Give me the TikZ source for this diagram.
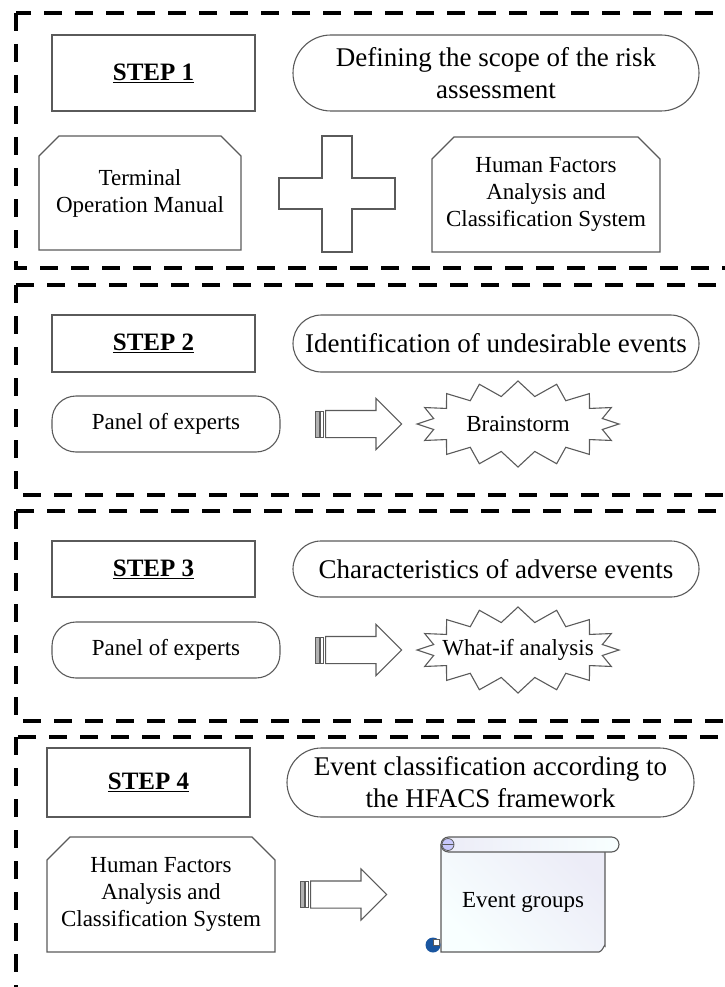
\documentclass[tikz,border=0pt]{standalone}
\usepackage{fontspec}
\setmainfont{Liberation Serif}
\usetikzlibrary{shapes.misc,shapes.symbols,shapes.arrows}

\definecolor{edge}{HTML}{5A5A5A}
\definecolor{rollA}{HTML}{ECECF7}
\definecolor{rollB}{HTML}{F8FFFF}
\definecolor{curl}{HTML}{1A56A0}

\begin{document}
\begin{tikzpicture}[x=1pt,y=-1pt,
  frame/.style={line width=3.2pt, dash pattern=on 18pt off 13pt},
  outline/.style={draw=edge, line width=1.1pt},
  box/.style={outline, inner sep=0pt, align=center},
  stepbox/.style={box, rectangle, minimum width=203pt, font=\fontsize{25}{30}\selectfont\bfseries},
  pill/.style={box, rounded rectangle, font=\fontsize{27}{32}\selectfont},
  panel/.style={box, rectangle, rounded corners=24pt, minimum width=228pt, minimum height=56pt, font=\fontsize{23}{28}\selectfont},
  doc/.style={box, chamfered rectangle, chamfered rectangle corners={north west,north east}, font=\fontsize{23}{27}\selectfont},
  burst/.style={box, starburst, starburst points=16, random starburst=0, starburst point height=15pt, minimum width=202pt, minimum height=86pt},
  label/.style={font=\fontsize{23}{28}\selectfont, inner sep=0pt},
  blockarrow/.style={outline, single arrow, single arrow head extend=12pt, single arrow tip angle=90, inner sep=13pt, minimum height=76pt},
  stripedarrow/.pic={
    \fill[gray!60] (0,-13) rectangle (4,13);
    \draw[draw=edge, line width=0.7pt] (0,-13) rectangle (4,13);
    \draw[draw=edge, line width=0.7pt] (5.5,-13) rectangle (8.5,13);
    \node[blockarrow, anchor=tail] (-body) at (10,0) {};
  }
]
\useasboundingbox (0,0) rectangle (724,987);

% dashed frames of the four steps
\draw[frame] (16,13) rectangle (745,268);
\draw[frame] (16,285) rectangle (745,495);
\draw[frame] (16,511) rectangle (745,721);
\draw[frame] (16,737) rectangle (745,1010);

% step 1
\node[stepbox, minimum height=76pt] (s1) at (153.5,73) {\underline{STEP 1}};
\node[pill, minimum width=406pt, minimum height=76pt] (d1) at (496,73) {Defining the scope of the risk\\assessment};
\node[doc, minimum width=202pt, minimum height=114pt, chamfered rectangle xsep=10pt, chamfered rectangle ysep=10pt] (tom) at (140,193) {Terminal\\Operation Manual};
\draw[outline] (279,178) -- (322,178) -- (322,136) -- (352,136) -- (352,178) -- (395,178)
  -- (395,209) -- (352,209) -- (352,252) -- (322,252) -- (322,209) -- (279,209) -- cycle;
\node[doc, minimum width=228pt, minimum height=115pt, chamfered rectangle xsep=12pt, chamfered rectangle ysep=10pt] (hf1) at (546,194.5) {Human Factors\\Analysis and\\Classification System};

% step 2
\node[stepbox, minimum height=57pt] (s2) at (153.5,343.5) {\underline{STEP 2}};
\node[pill, minimum width=406pt, minimum height=57pt] (id2) at (496,343.5) {Identification of undesirable events};
\node[panel] (p2) at (166,424) {Panel of experts};
\pic (a2) at (315,424) {stripedarrow};
\node[burst] (b2) at (518,424) {};
\node[label] (b2t) at (b2.center) {Brainstorm};

% step 3
\node[stepbox, minimum height=56pt] (s3) at (153.5,569) {\underline{STEP 3}};
\node[pill, minimum width=406pt, minimum height=56pt] (c3) at (496,569) {Characteristics of adverse events};
\node[panel] (p3) at (166,650) {Panel of experts};
\pic (a3) at (315,650) {stripedarrow};
\node[burst] (w3) at (518,650) {};
\node[label] (w3t) at (w3.center) {What-if analysis};

% step 4
\node[stepbox, minimum height=69pt] (s4) at (148.5,782.5) {\underline{STEP 4}};
\node[pill, minimum width=407pt, minimum height=69pt] (e4) at (490.5,782.5) {Event classification according to\\the HFACS framework};
\node[doc, minimum width=228pt, minimum height=115pt, chamfered rectangle xsep=11.5pt, chamfered rectangle ysep=11.5pt] (hf4) at (161,894.5) {Human Factors\\Analysis and\\Classification System};
\pic (a4) at (300,894.5) {stripedarrow};

% scroll holding the event groups
\path[outline, left color=rollA, right color=rollB, shading angle=-45] (441,845) -- (441,952) -- (599,952)
  to[out=0,in=90] (605,946) -- (605,845) -- cycle;
\node[outline, rounded rectangle, minimum width=178pt, minimum height=15pt, inner sep=0pt,
  left color=rollA, right color=rollB] (roll) at (530,844.5) {};
\draw[outline, fill=rollA!70!blue!60, line width=0.8pt] (448,844.5) circle (6);
\draw[edge, line width=0.8pt] (442,844.5) -- (454,844.5);
\fill[curl] (433,945) circle (7.5);
\draw[draw=edge, fill=white, line width=0.6pt] (433,945) rectangle (439,939);
\node[label] (eg) at (523,902) {Event groups};
\end{tikzpicture}
\end{document}
